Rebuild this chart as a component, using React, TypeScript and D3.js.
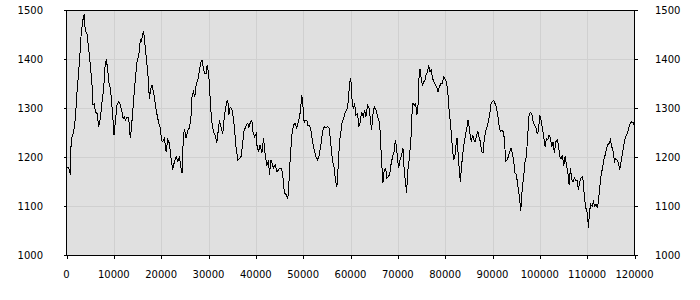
import React from "react";
import * as d3 from "d3";

const xTicks = [0, 10000, 20000, 30000, 40000, 50000, 60000, 70000, 80000, 90000, 100000, 110000, 120000];
const yTicks = [1000, 1100, 1200, 1300, 1400, 1500];

const xs = [
  100, 300, 600, 810, 950, 1160, 1515, 1868, 2220, 2573, 2925, 3136, 3418, 3559, 3771, 3841, 4123, 4335, 4687, 5040,
  5392, 5603, 5885, 6097, 6449, 6802, 7154, 7506, 7859, 8211, 8422, 8704, 8916, 9127, 9410, 9762, 10044, 10326, 10678, 11031,
  11383, 11735, 11947, 12229, 12440, 12793, 13145, 13357, 13498, 13709, 13991, 14203, 14555, 14907, 15260, 15612, 15823, 16105, 16317, 16528,
  16810, 17163, 17515, 17797, 18079, 18431, 18784, 19136, 19489, 19841, 20052,
  20334, 20687, 21039, 21392, 21744, 22097, 22449, 22801, 23154, 23506, 23859, 24211, 24423, 24705, 24987, 25269, 25621, 25973, 26326,
  26537, 26819, 27101, 27383, 27735, 28088, 28440, 28651, 28863, 29145, 29497, 29709, 29991, 30203, 30414, 30696, 31048, 31400, 31753, 32035,
  32317, 32528, 32810, 33022, 33304, 33586, 33868, 34079, 34291, 34573, 34925, 35137, 35489, 35841, 36194, 36546, 36898, 37251, 37462, 37744,
  37956, 38308, 38519, 38872, 39154, 39366, 39718, 40070,
  40211, 40563, 40916, 41268, 41621, 41973, 42326, 42678, 42889, 43171, 43524, 43735, 44087, 44440, 44792, 45004, 45286, 45638, 45849, 46061,
  46413, 46766, 47048, 47259, 47612, 47964, 48316, 48669, 49021, 49233, 49515, 49726, 49938, 50220, 50431, 50784, 50995, 51348, 51700, 51982,
  52334, 52687, 53039, 53391, 53744, 54096, 54448, 54801, 55153, 55506, 55858, 56210, 56563, 56845, 57127, 57409, 57691, 57973, 58255, 58537,
  58889, 59242, 59524, 59735, 59946,
  60087, 60299, 60581, 60862, 61145, 61497, 61779, 62061, 62342, 62695, 62977, 63259, 63611, 63964, 64175, 64457, 64739, 65021, 65373, 65726,
  65937, 66149, 66360, 66572, 66854, 67136, 67418, 67700, 67982, 68263, 68545, 68898, 69250, 69462, 69744, 69955, 70167, 70449, 70801, 71083,
  71365, 71647, 71858, 72070, 72422, 72775, 72986, 73198, 73480, 73762, 74043, 74325, 74466, 74678, 74889, 75171, 75453, 75735, 76017, 76298,
  76510, 76792, 77074, 77356, 77638, 77920, 78202, 78484, 78765, 79118, 79400, 79682,
  80105, 80317, 80528, 80810, 81091, 81373, 81585, 81797, 82079, 82290, 82502, 82713, 82925, 83207, 83488, 83771, 84052, 84334, 84616, 84828,
  85109, 85321, 85533, 85815, 86097, 86308, 86590, 86871, 87154, 87435, 87717, 87999, 88281, 88563, 88845, 89126, 89408, 89691, 89972, 90254,
  90536, 90818, 91100, 91382, 91664, 91945, 92228, 92509, 92791, 93073, 93355, 93637, 93919, 94200, 94483, 94765, 95046, 95328, 95611, 95822,
  95963, 96105, 96316, 96598, 96880, 97162, 97444, 97726, 98008, 98290, 98572, 98853, 99135, 99418, 99699,
  99982, 100262, 100544, 100827, 101108, 101390, 101672, 101955, 102236, 102518, 102800, 103082, 103364, 103646, 103927, 104210, 104492, 104773, 105056, 105338,
  105620, 105901, 106183, 106465, 106747, 107029, 107311, 107593, 107875, 108157, 108439, 108721, 109002, 109214, 109425, 109707, 109919, 110131, 110272, 110483,
  110765, 111047, 111329, 111611, 111893, 112175, 112386, 112668, 112950, 113232, 113514, 113796, 114078, 114360, 114642, 114923, 115205, 115488, 115769, 116051,
  116333, 116615, 116897, 117179, 117461, 117743, 118025, 118307, 118589, 118871, 119152, 119434, 119716, 119857,
];

const ys = [
  1178, 1180, 1175, 1165, 1222, 1242, 1253, 1280, 1334, 1375, 1422, 1459, 1473, 1490, 1491, 1470, 1456, 1452, 1422, 1388,
  1348, 1307, 1310, 1293, 1290, 1263, 1280, 1314, 1341, 1395, 1398, 1381, 1354, 1350, 1327, 1287, 1246, 1273, 1307, 1314,
  1307, 1293, 1280, 1283, 1276, 1283, 1280, 1253, 1239, 1260, 1293, 1320, 1361, 1395, 1408, 1442, 1436, 1452, 1456, 1436,
  1408, 1375, 1320, 1341, 1348, 1331, 1307, 1287, 1270, 1260, 1236,
  1232, 1239, 1212, 1236, 1229, 1198, 1175, 1192, 1202, 1192, 1202, 1178, 1168, 1249, 1256, 1239, 1256, 1260, 1287,
  1327, 1334, 1324, 1348, 1358, 1378, 1396, 1398, 1385, 1371, 1371, 1388, 1375, 1348, 1307, 1273, 1253, 1246, 1229, 1253,
  1276, 1266, 1256, 1249, 1280, 1300, 1314, 1317, 1287, 1303, 1300, 1287, 1260, 1219, 1195, 1198, 1202, 1232, 1253, 1260,
  1266, 1270, 1260, 1273, 1276, 1253, 1242, 1249,
  1226, 1212, 1226, 1209, 1239, 1205, 1185, 1192, 1165, 1195, 1185, 1178, 1185, 1171, 1175, 1178, 1178, 1171, 1144, 1127,
  1124, 1117, 1158, 1198, 1246, 1266, 1270, 1260, 1276, 1280, 1307, 1327, 1307, 1270, 1276, 1276, 1266, 1266, 1253, 1232,
  1215, 1202, 1195, 1205, 1226, 1253, 1263, 1260, 1263, 1260, 1226, 1192, 1178, 1151, 1141, 1185, 1232, 1253, 1273, 1280,
  1293, 1297, 1314, 1341, 1361,
  1358, 1320, 1300, 1310, 1287, 1290, 1263, 1273, 1293, 1283, 1297, 1283, 1307, 1300, 1280, 1256, 1287, 1303, 1297, 1283,
  1276, 1273, 1232, 1192, 1148, 1175, 1178, 1158, 1161, 1165, 1185, 1202, 1212, 1236, 1219, 1195, 1178, 1195, 1205, 1219,
  1171, 1148, 1127, 1171, 1198, 1239, 1287, 1310, 1307, 1310, 1287, 1314, 1361, 1381, 1364, 1348, 1354, 1358, 1371, 1375,
  1388, 1375, 1378, 1361, 1354, 1348, 1344, 1334, 1344, 1351, 1351, 1364,
  1358, 1351, 1337, 1300, 1273, 1239, 1215, 1195, 1205, 1226, 1239, 1212, 1182, 1151, 1185, 1212, 1232, 1249, 1263, 1276,
  1260, 1242, 1232, 1246, 1236, 1232, 1242, 1254, 1242, 1232, 1212, 1209, 1239, 1253, 1263, 1273, 1287, 1310, 1314, 1317,
  1310, 1303, 1287, 1266, 1253, 1256, 1253, 1239, 1192, 1195, 1202, 1212, 1219, 1209, 1192, 1168, 1165, 1144, 1124, 1107,
  1090, 1110, 1141, 1161, 1192, 1202, 1246, 1287, 1292, 1290, 1273, 1266, 1263, 1249, 1253,
  1287, 1276, 1260, 1242, 1222, 1239, 1236, 1246, 1239, 1222, 1232, 1209, 1232, 1236, 1226, 1202, 1198, 1205, 1182, 1202,
  1185, 1171, 1144, 1178, 1154, 1151, 1158, 1154, 1154, 1134, 1151, 1158, 1161, 1148, 1117, 1097, 1093, 1076, 1056, 1090,
  1104, 1100, 1110, 1100, 1105, 1097, 1110, 1141, 1165, 1178, 1195, 1205, 1219, 1226, 1229, 1236, 1222, 1212, 1192, 1198,
  1195, 1188, 1175, 1192, 1209, 1226, 1239, 1246, 1253, 1263, 1270, 1273, 1271, 1266,
];

const W = 700;
const H = 300;
const L = 66.5;
const R = 634.5;
const T = 10.5;
const B = 255.5;

export default function App() {
  const x = d3.scaleLinear().domain([0, 120000]).range([L, R]);
  const y = d3.scaleLinear().domain([1000, 1500]).range([B, T]);
  const pts: [number, number][] = xs.map((v, i) => [v, ys[i]]);
  const line = d3
    .line<[number, number]>()
    .x((d) => x(d[0]))
    .y((d) => y(d[1]));
  const font = { fontFamily: "'DejaVu Sans', sans-serif", fontSize: 10, fill: "#000" };
  return (
    <svg
      width={W}
      height={H}
      style={{ position: "absolute", left: 0, top: 0, background: "#fff" }}
    >
      <rect x={L} y={T} width={R - L} height={B - T} fill="#e0e0e0" />
      <g stroke="#d0d0d0" strokeWidth={1} shapeRendering="crispEdges">
        {xTicks.slice(1, -1).map((t) => (
          <line key={"gx" + t} x1={Math.round(x(t)) + 0.5} x2={Math.round(x(t)) + 0.5} y1={T} y2={B} />
        ))}
        {yTicks.slice(1, -1).map((t) => (
          <line key={"gy" + t} x1={L} x2={R} y1={y(t)} y2={y(t)} />
        ))}
      </g>
      <path d={line(pts) || ""} fill="none" stroke="#000" strokeWidth={1} shapeRendering="crispEdges" />
      <g stroke="#000" strokeWidth={1} shapeRendering="crispEdges" fill="none">
        <rect x={L} y={T} width={R - L} height={B - T} />
        {xTicks.map((t) => (
          <line key={"tx" + t} x1={Math.round(x(t)) + 0.5} x2={Math.round(x(t)) + 0.5} y1={B} y2={B + 3} />
        ))}
        {yTicks.map((t) => (
          <g key={"ty" + t}>
            <line x1={L - 3} x2={L} y1={y(t)} y2={y(t)} />
            <line x1={R} x2={R + 3} y1={y(t)} y2={y(t)} />
          </g>
        ))}
      </g>
      <g style={font as any}>
        {yTicks.map((t) => (
          <g key={"ly" + t}>
            <text x={43} y={y(t)} textAnchor="end" dominantBaseline="central">
              {t}
            </text>
            <text x={655} y={y(t)} textAnchor="start" dominantBaseline="central">
              {t}
            </text>
          </g>
        ))}
        {xTicks.map((t) => (
          <text key={"lx" + t} x={x(t)} y={274} textAnchor="middle" dominantBaseline="central">
            {t}
          </text>
        ))}
      </g>
    </svg>
  );
}
